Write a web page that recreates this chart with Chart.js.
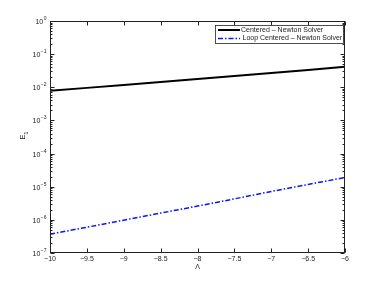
<!DOCTYPE html>
<html><head><meta charset="utf-8">
<script src="https://cdn.jsdelivr.net/npm/chart.js@4"></script>
<style>html,body{margin:0;padding:0;background:#fff}canvas{display:block}</style>
</head><body>
<canvas id="c" width="382" height="286"></canvas>
<script>
// ---- data ----
const lambdaValues = [-10, -9.5, -9, -8.5, -8, -7.5, -7, -6.5, -6];
const centeredValues = [7.8e-3, 9.6e-3, 1.18e-2, 1.45e-2, 1.78e-2, 2.19e-2, 2.70e-2, 3.35e-2, 4.15e-2];
const loopCenteredValues = [3.7e-7, 6.0e-7, 9.8e-7, 1.6e-6, 2.6e-6, 4.3e-6, 7.2e-6, 1.17e-5, 1.9e-5];
const xTickValues = [-10, -9.5, -9, -8.5, -8, -7.5, -7, -6.5, -6];
const xTickLabels = ['\u221210', '\u22129.5', '\u22129', '\u22128.5', '\u22128', '\u22127.5', '\u22127', '\u22126.5', '\u22126'];
const yDecadeExponents = [0, -1, -2, -3, -4, -5, -6, -7];
const yExponentLabels = ['0', '\u22121', '\u22122', '\u22123', '\u22124', '\u22125', '\u22126', '\u22127'];
const seriesNames = ['Centered \u2013 Newton Solver', 'Loop Centered \u2013 Newton Solver'];
const xAxisTitle = '\u039B';
const yAxisTitleMain = 'E';
const yAxisTitleSub = '1';

const FONT = '"Liberation Sans", Arial, sans-serif';
const BLUE = 'rgb(10,20,255)';
const AXIS = '#222';
const TEXT = '#222';
const DASHDOT = [5, 2, 1.5, 2];

const decorPlugin = {
  id: 'decor',
  afterDraw(chart) {
    const ctx = chart.ctx;
    const a = chart.chartArea;
    const xs = chart.scales.x, ys = chart.scales.y;
    const L = Math.round(a.left) + 0.5, R = Math.round(a.right) - 0.5;
    const T = Math.round(a.top) + 0.5, B = Math.round(a.bottom) - 0.5;
    ctx.save();
    ctx.strokeStyle = AXIS;
    ctx.lineWidth = 1;
    ctx.strokeRect(L, T, R - L, B - T);
    // x ticks (inward, top and bottom)
    ctx.beginPath();
    xTickValues.forEach(v => {
      const px = Math.round(xs.getPixelForValue(v)) + 0.5;
      ctx.moveTo(px, B); ctx.lineTo(px, B - 4);
      ctx.moveTo(px, T); ctx.lineTo(px, T + 4);
    });
    // y ticks major + minor
    yDecadeExponents.forEach(e => {
      const py = Math.round(ys.getPixelForValue(Math.pow(10, e))) + 0.5;
      ctx.moveTo(L, py); ctx.lineTo(L + 4, py);
      ctx.moveTo(R, py); ctx.lineTo(R - 4, py);
      if (e < 0) {
        for (let m = 2; m <= 9; m++) {
          const pm = Math.round(ys.getPixelForValue(m * Math.pow(10, e))) + 0.5;
          ctx.moveTo(L, pm); ctx.lineTo(L + 2, pm);
          ctx.moveTo(R, pm); ctx.lineTo(R - 2, pm);
        }
      }
    });
    ctx.stroke();
    // x tick labels
    ctx.fillStyle = TEXT;
    ctx.font = '7px ' + FONT;
    ctx.textAlign = 'center';
    ctx.textBaseline = 'top';
    xTickValues.forEach((v, i) => {
      ctx.fillText(xTickLabels[i], xs.getPixelForValue(v), B + 3);
    });
    // y tick labels with superscript exponents
    yDecadeExponents.forEach((e, i) => {
      const py = ys.getPixelForValue(Math.pow(10, e));
      ctx.font = '5px ' + FONT;
      ctx.textAlign = 'left';
      ctx.textBaseline = 'alphabetic';
      const ew = ctx.measureText(yExponentLabels[i]).width;
      const ex = L - 4 - ew;
      ctx.fillText(yExponentLabels[i], ex, py - 1);
      ctx.font = '7px ' + FONT;
      ctx.textAlign = 'right';
      ctx.textBaseline = 'middle';
      ctx.fillText('10', ex - 0.5, py + 1);
    });
    // axis titles
    ctx.font = '7px ' + FONT;
    ctx.textAlign = 'center';
    ctx.textBaseline = 'middle';
    ctx.fillText(xAxisTitle, (a.left + a.right) / 2, 267);
    ctx.save();
    ctx.translate(23, 137);
    ctx.rotate(-Math.PI / 2);
    ctx.font = '8px ' + FONT;
    ctx.textAlign = 'center';
    ctx.fillText(yAxisTitleMain, 0, 0);
    ctx.font = '5px ' + FONT;
    ctx.fillText(yAxisTitleSub, 4, 4);
    ctx.restore();
    // legend
    const lx0 = 215.5, ly0 = 25.5, lx1 = 343.5, ly1 = 43.5;
    ctx.fillStyle = '#fff';
    ctx.fillRect(lx0, ly0, lx1 - lx0, ly1 - ly0);
    ctx.strokeStyle = AXIS;
    ctx.lineWidth = 0.8;
    ctx.strokeRect(lx0, ly0, lx1 - lx0, ly1 - ly0);
    ctx.beginPath();
    ctx.strokeStyle = '#000';
    ctx.lineWidth = 2;
    ctx.moveTo(218, 30); ctx.lineTo(240, 30);
    ctx.stroke();
    ctx.beginPath();
    ctx.strokeStyle = BLUE;
    ctx.lineWidth = 1.5;
    ctx.setLineDash(DASHDOT);
    ctx.moveTo(218, 38.5); ctx.lineTo(240, 38.5);
    ctx.stroke();
    ctx.setLineDash([]);
    ctx.fillStyle = TEXT;
    ctx.font = '7px ' + FONT;
    ctx.textAlign = 'left';
    ctx.textBaseline = 'middle';
    ctx.fillText(seriesNames[0], 241, 30.5);
    ctx.fillText(seriesNames[1], 242.5, 38.5);
    ctx.restore();
  }
};

new Chart(document.getElementById('c'), {
  type: 'line',
  data: {
    datasets: [
      {
        label: seriesNames[0],
        data: lambdaValues.map((x, i) => ({ x, y: centeredValues[i] })),
        borderColor: '#000',
        borderWidth: 2,
        pointRadius: 0,
        fill: false,
        tension: 0
      },
      {
        label: seriesNames[1],
        data: lambdaValues.map((x, i) => ({ x, y: loopCenteredValues[i] })),
        borderColor: BLUE,
        borderWidth: 1.5,
        borderDash: DASHDOT,
        pointRadius: 0,
        fill: false,
        tension: 0
      }
    ]
  },
  options: {
    responsive: false,
    animation: false,
    devicePixelRatio: 1,
    layout: { padding: { top: 21, right: 37, left: 0, bottom: 0 } },
    plugins: { legend: { display: false }, tooltip: { enabled: false } },
    scales: {
      x: {
        type: 'linear', min: -10, max: -6,
        ticks: { display: false },
        grid: { display: false },
        border: { display: false },
        afterFit: s => { s.height = 33; }
      },
      y: {
        type: 'logarithmic', min: 1e-7, max: 1,
        ticks: { display: false },
        grid: { display: false },
        border: { display: false },
        afterFit: s => { s.width = 50; }
      }
    }
  },
  plugins: [decorPlugin]
});
</script>
</body></html>
